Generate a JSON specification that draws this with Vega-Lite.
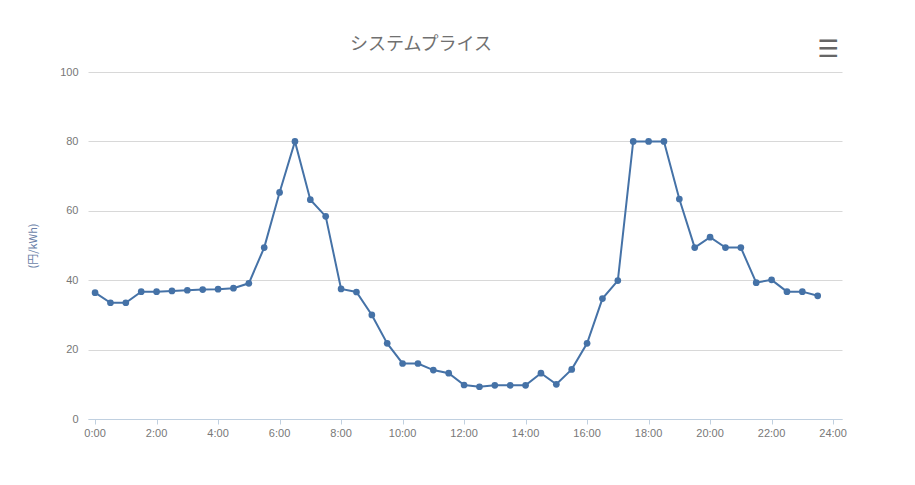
{
  "$schema": "https://vega.github.io/schema/vega-lite/v6.json",
  "width": 754,
  "height": 347,
  "autosize": "none",
  "padding": {"left": 88, "top": 72, "right": 73, "bottom": 66},
  "background": "#ffffff",
  "title": {
    "text": "システムプライス",
    "font": "Noto Sans CJK JP",
    "fontSize": 18,
    "fontWeight": "normal",
    "color": "#707070",
    "anchor": "middle",
    "dx": -44,
    "offset": -16
  },
  "datasets": {
    "prices": [
      {"hour": 0, "price": 36.4},
      {"hour": 0.5, "price": 33.5},
      {"hour": 1, "price": 33.5},
      {"hour": 1.5, "price": 36.7},
      {"hour": 2, "price": 36.7},
      {"hour": 2.5, "price": 36.9},
      {"hour": 3, "price": 37.1},
      {"hour": 3.5, "price": 37.3},
      {"hour": 4, "price": 37.4},
      {"hour": 4.5, "price": 37.7},
      {"hour": 5, "price": 39.1},
      {"hour": 5.5, "price": 49.4},
      {"hour": 6, "price": 65.3},
      {"hour": 6.5, "price": 80},
      {"hour": 7, "price": 63.2},
      {"hour": 7.5, "price": 58.4},
      {"hour": 8, "price": 37.5},
      {"hour": 8.5, "price": 36.6},
      {"hour": 9, "price": 30.0},
      {"hour": 9.5, "price": 21.8},
      {"hour": 10, "price": 16.0},
      {"hour": 10.5, "price": 16.0},
      {"hour": 11, "price": 14.1},
      {"hour": 11.5, "price": 13.2},
      {"hour": 12, "price": 9.8},
      {"hour": 12.5, "price": 9.3},
      {"hour": 13, "price": 9.7},
      {"hour": 13.5, "price": 9.7},
      {"hour": 14, "price": 9.7},
      {"hour": 14.5, "price": 13.2},
      {"hour": 15, "price": 10.0},
      {"hour": 15.5, "price": 14.3},
      {"hour": 16, "price": 21.8},
      {"hour": 16.5, "price": 34.7},
      {"hour": 17, "price": 39.9},
      {"hour": 17.5, "price": 80},
      {"hour": 18, "price": 80},
      {"hour": 18.5, "price": 80},
      {"hour": 19, "price": 63.4},
      {"hour": 19.5, "price": 49.4},
      {"hour": 20, "price": 52.4},
      {"hour": 20.5, "price": 49.4},
      {"hour": 21, "price": 49.4},
      {"hour": 21.5, "price": 39.3},
      {"hour": 22, "price": 40.1},
      {"hour": 22.5, "price": 36.7},
      {"hour": 23, "price": 36.7},
      {"hour": 23.5, "price": 35.5}
    ],
    "ticklabels": [
      {"hour": 0, "floor": 0, "lbl": "0:00"},
      {"hour": 2, "floor": 0, "lbl": "2:00"},
      {"hour": 4, "floor": 0, "lbl": "4:00"},
      {"hour": 6, "floor": 0, "lbl": "6:00"},
      {"hour": 8, "floor": 0, "lbl": "8:00"},
      {"hour": 10, "floor": 0, "lbl": "10:00"},
      {"hour": 12, "floor": 0, "lbl": "12:00"},
      {"hour": 14, "floor": 0, "lbl": "14:00"},
      {"hour": 16, "floor": 0, "lbl": "16:00"},
      {"hour": 18, "floor": 0, "lbl": "18:00"},
      {"hour": 20, "floor": 0, "lbl": "20:00"},
      {"hour": 22, "floor": 0, "lbl": "22:00"},
      {"hour": 24, "floor": 0, "lbl": "24:00"}
    ]
  },
  "layer": [
    {
      "data": {"name": "prices"},
      "mark": {"type": "line", "color": "#4572A7", "strokeWidth": 2, "point": {"filled": true, "size": 45, "color": "#4572A7"}},
      "encoding": {
        "x": {
          "field": "hour",
          "type": "quantitative",
          "scale": {"domain": [-0.23, 24.29], "nice": false, "zero": false},
          "axis": {
            "title": null,
            "grid": false,
            "labels": false,
            "values": [0, 0.5, 1, 1.5, 2, 2.5, 3, 3.5, 4, 4.5, 5, 5.5, 6, 6.5, 7, 7.5, 8, 8.5, 9, 9.5, 10, 10.5, 11, 11.5, 12, 12.5, 13, 13.5, 14, 14.5, 15, 15.5, 16, 16.5, 17, 17.5, 18, 18.5, 19, 19.5, 20, 20.5, 21, 21.5, 22, 22.5, 23, 23.5, 24],
            "domainColor": "#C0D0E0",
            "tickColor": "#C0D0E0",
            "tickSize": 5
          }
        },
        "y": {
          "field": "price",
          "type": "quantitative",
          "scale": {"domain": [0, 100], "nice": false},
          "axis": {
            "title": "(円/kWh)",
            "values": [0, 20, 40, 60, 80, 100],
            "domain": false,
            "ticks": false,
            "labelPadding": 10,
            "gridColor": "#D8D8D8",
            "gridWidth": 1,
            "titlePadding": 21,
            "titleColor": "#6b7fa8",
            "titleFontSize": 11,
            "titleFontWeight": "normal"
          }
        }
      }
    },
    {
      "data": {"name": "ticklabels"},
      "mark": {"type": "text", "fontSize": 11, "color": "#777777", "align": "center", "baseline": "top", "yOffset": 9, "font": "Liberation Sans"},
      "encoding": {
        "x": {"field": "hour", "type": "quantitative"},
        "y": {"field": "floor", "type": "quantitative"},
        "text": {"field": "lbl", "type": "nominal"}
      }
    },
    {
      "data": {"values": [{"icon": "☰", "hour": 23.84, "price": 106.3}]},
      "mark": {"type": "text", "fontSize": 24, "fontWeight": "bold", "color": "#666666", "align": "center", "baseline": "middle", "font": "DejaVu Sans"},
      "encoding": {
        "x": {"field": "hour", "type": "quantitative"},
        "y": {"field": "price", "type": "quantitative"},
        "text": {"field": "icon"}
      }
    }
  ],
  "config": {
    "view": {"stroke": null},
    "font": "Noto Sans CJK JP",
    "axis": {
      "labelFont": "Liberation Sans",
      "labelFontSize": 11,
      "labelColor": "#777777",
      "titleFont": "Noto Sans CJK JP"
    }
  }
}
